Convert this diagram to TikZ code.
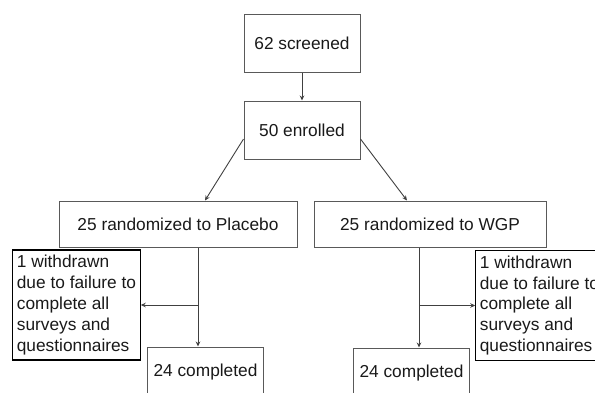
\documentclass[tikz,border=0pt]{standalone}
\usepackage{fontspec}
\setmainfont{Liberation Sans}
\usepackage{tikz}
\usetikzlibrary{positioning}
\usetikzlibrary{arrows.meta}
\usetikzlibrary{calc}

\begin{document}
\begin{tikzpicture}[
  x=1pt, y=-1pt,
  font=\fontsize{17.3}{20.8}\selectfont,
  box/.style={draw=black!65, line width=1pt, text=black!90, align=center, minimum width=116pt, minimum height=58pt, inner sep=0pt},
  armbox/.style={box, minimum width=238pt, minimum height=46pt},
  wbox/.style={draw=black, line width=1.2pt, text=black!90, align=left, minimum width=127pt, minimum height=110pt, inner sep=4pt},
  arrow/.style={-{Stealth[length=5pt, width=4.5pt]}, draw=black!75, line width=0.9pt}
]
\path[use as bounding box, clip] (0,0) rectangle (595,392);

% Nodes (flow)
\node[box] (screen) at (302,43) {62 screened};
\node[box, below=28pt of screen] (enroll) {50 enrolled};

% Arms
\node[armbox, below=41pt of enroll, xshift=-124pt] (plc) {25 randomized to Placebo};
\node[armbox, right=16pt of plc, minimum width=232pt] (wgp) {25 randomized to WGP};

% Withdrawals
\node[wbox] (wdl) at (76.5,305) {1 withdrawn\\due to failure to\\complete all\\surveys and\\questionnaires};
\node[wbox] (wdr) at (539.5,305.5) {1 withdrawn\\due to failure to\\complete all\\surveys and\\questionnaires};

% Completed
\node[box, minimum height=50pt] (donel) at (205.5,372) {24 completed};
\node[box, minimum height=50pt] (doner) at (411.5,373) {24 completed};

% Main lineage
\draw[arrow] (screen) -- (enroll);
\draw[arrow] ([yshift=-9pt]enroll.west) -- ([xshift=27pt]plc.north);
\draw[arrow] ([yshift=-9pt]enroll.east) -- ([xshift=-23pt]wgp.north);

% Placebo arm
\coordinate (lsplit) at ([xshift=20pt]plc.south |- wdl.east);
\draw[arrow] ([xshift=20pt]plc.south) -- ([xshift=20pt]plc.south |- donel.north);
\draw[arrow] (lsplit) -- (wdl.east);

% WGP arm
\coordinate (rsplit) at ([xshift=-11pt]wgp.south |- wdr.west);
\draw[arrow] ([xshift=-11pt]wgp.south) -- ([xshift=-11pt]wgp.south |- doner.north);
\draw[arrow] (rsplit) -- (wdr.west);

\end{tikzpicture}
\end{document}
